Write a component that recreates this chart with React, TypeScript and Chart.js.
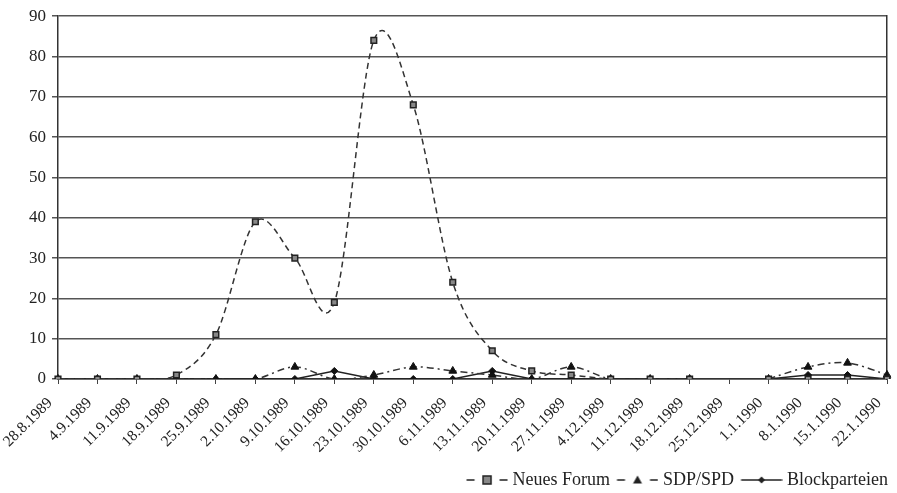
import React, { useEffect, useRef } from 'react';
import { Chart, registerables } from 'chart.js';

Chart.register(...registerables);

const categories = [
  '28.8.1989', '4.9.1989', '11.9.1989', '18.9.1989', '25.9.1989', '2.10.1989',
  '9.10.1989', '16.10.1989', '23.10.1989', '30.10.1989', '6.11.1989', '13.11.1989',
  '20.11.1989', '27.11.1989', '4.12.1989', '11.12.1989', '18.12.1989', '25.12.1989',
  '1.1.1990', '8.1.1990', '15.1.1990', '22.1.1990',
];

const neuesForum: (number | null)[] = [0, 0, 0, 1, 11, 39, 30, 19, 84, 68, 24, 7, 2, 1, 0, 0, 0, null, 0, 0, 0, 0];
const sdpSpd: (number | null)[] = [0, 0, 0, 0, 0, 0, 3, 0, 1, 3, 2, 1, 0, 3, 0, 0, 0, null, 0, 3, 4, 1];
const blockparteien: (number | null)[] = [0, 0, 0, 0, 0, 0, 0, 2, 0, 0, 0, 2, 0, 0, 0, 0, 0, null, 0, 1, 1, 0];

const seriesNames = ['Neues Forum', 'SDP/SPD', 'Blockparteien'];
const yTicks = { min: 0, max: 90, step: 10 };

const FONT = '"Liberation Serif", "Times New Roman", serif';
const INK = '#222';

Chart.defaults.font.family = FONT;
Chart.defaults.color = INK;

// Excel-like smoothing: uniform Catmull-Rom control points computed from the
// pixel positions that Chart.js itself produced for each point.
const excelSmooth = {
  id: 'excelSmooth',
  beforeDatasetDraw(chart: any, args: any) {
    const meta = chart.getDatasetMeta(args.index);
    const ds = chart.data.datasets[args.index];
    if (!ds.excelSmooth || !meta.dataset) return;
    meta.dataset.updateControlPoints(chart.chartArea, 'x');
    const pts = meta.data;
    for (let i = 0; i < pts.length; i++) {
      const p = pts[i];
      if (p.skip) continue;
      const prev = i > 0 && !pts[i - 1].skip ? pts[i - 1] : p;
      const next = i < pts.length - 1 && !pts[i + 1].skip ? pts[i + 1] : p;
      const dx = (next.x - prev.x) / 6;
      const dy = (next.y - prev.y) / 6;
      p.cp1x = p.x - dx;
      p.cp1y = p.y - dy;
      p.cp2x = p.x + dx;
      p.cp2y = p.y + dy;
    }
  },
};

function makeLegendImg(kind: 'rect' | 'triangle' | 'rectRot'): HTMLCanvasElement {
  const c = document.createElement('canvas');
  c.width = 48;
  c.height = 14;
  const ctx = c.getContext('2d')!;
  ctx.strokeStyle = INK;
  ctx.lineWidth = 1.5;
  const y = 7;
  const a = 6.5;
  const b = 47.5;
  ctx.beginPath();
  if (kind === 'rectRot') {
    ctx.moveTo(a, y);
    ctx.lineTo(b, y);
  } else {
    ctx.moveTo(a, y);
    ctx.lineTo(a + 8, y);
    ctx.moveTo(b - 8, y);
    ctx.lineTo(b, y);
  }
  ctx.stroke();
  const cx = (a + b) / 2;
  ctx.beginPath();
  if (kind === 'rect') {
    ctx.fillStyle = '#888';
    ctx.rect(cx - 4, y - 4, 8, 8);
    ctx.fill();
    ctx.stroke();
  } else if (kind === 'triangle') {
    ctx.fillStyle = INK;
    ctx.moveTo(cx, y - 4.5);
    ctx.lineTo(cx + 4.5, y + 3.5);
    ctx.lineTo(cx - 4.5, y + 3.5);
    ctx.closePath();
    ctx.fill();
  } else {
    ctx.fillStyle = INK;
    ctx.moveTo(cx, y - 3.5);
    ctx.lineTo(cx + 3.5, y);
    ctx.lineTo(cx, y + 3.5);
    ctx.lineTo(cx - 3.5, y);
    ctx.closePath();
    ctx.fill();
  }
  return c;
}

export default function App() {
  const ref = useRef<HTMLCanvasElement | null>(null);

  useEffect(() => {
    if (!ref.current) return;
    const legendImgs = [makeLegendImg('rect'), makeLegendImg('triangle'), makeLegendImg('rectRot')];

    const chart = new Chart(ref.current, {
      type: 'line',
      plugins: [excelSmooth],
      data: {
        labels: categories,
        datasets: [
          {
            label: seriesNames[0],
            data: neuesForum,
            borderColor: '#333',
            borderWidth: 1.5,
            borderDash: [6, 4],
            tension: 0.4,
            excelSmooth: true,
            pointStyle: 'rect',
            pointRadius: 4,
            pointBackgroundColor: '#888',
            pointBorderColor: '#222',
            pointBorderWidth: 1.5,
            spanGaps: false,
          },
          {
            label: seriesNames[1],
            data: sdpSpd,
            borderColor: '#333',
            borderWidth: 1.5,
            borderDash: [7, 4, 2, 4],
            tension: 0.4,
            excelSmooth: true,
            pointStyle: 'triangle',
            pointRadius: 4.5,
            pointBackgroundColor: '#111',
            pointBorderColor: '#111',
            pointBorderWidth: 1,
            spanGaps: false,
          },
          {
            label: seriesNames[2],
            data: blockparteien,
            borderColor: '#222',
            borderWidth: 1.5,
            tension: 0,
            pointStyle: 'rectRot',
            pointRadius: 3.5,
            pointBackgroundColor: '#111',
            pointBorderColor: '#111',
            pointBorderWidth: 1,
            spanGaps: false,
          },
        ],
      },
      options: {
        animation: false,
        responsive: false,
        maintainAspectRatio: false,
        layout: { padding: { top: 4, right: 4, left: 0, bottom: -6 } },
        plugins: {
          tooltip: { enabled: false },
          legend: {
            display: true,
            position: 'bottom',
            align: 'end',
            labels: {
              usePointStyle: true,
              pointStyleWidth: 39,
              boxHeight: 14,
              padding: 5,
              color: INK,
              font: { family: FONT, size: 18 },
              generateLabels: (ch: any) =>
                ch.data.datasets.map((ds: any, i: number) => ({
                  text: ds.label,
                  fillStyle: '#000',
                  strokeStyle: '#000',
                  lineWidth: 0,
                  hidden: false,
                  datasetIndex: i,
                  pointStyle: legendImgs[i],
                  fontColor: INK,
                })),
            },
          },
        },
        scales: {
          x: {
            type: 'category',
            grid: { display: true, drawOnChartArea: false, drawTicks: true, tickLength: 5, color: '#444', lineWidth: 1 },
            border: { display: true, color: '#333', width: 1.5 },
            ticks: {
              autoSkip: false,
              maxRotation: 45,
              minRotation: 45,
              padding: 10,
              labelOffset: -8,
              color: INK,
              font: { family: FONT, size: 15.5 },
            },
            afterFit: (s: any) => {
              s.height = 87;
              s.paddingLeft = 0;
              s.paddingRight = 0;
            },
          },
          y: {
            min: yTicks.min,
            max: yTicks.max,
            ticks: { stepSize: yTicks.step, padding: 6, color: INK, font: { family: FONT, size: 17 } },
            grid: { color: '#555', lineWidth: 1.5, tickLength: 6 },
            border: { display: true, color: '#333', width: 1.5 },
            afterFit: (s: any) => {
              s.width = 58;
            },
          },
          yr: {
            position: 'right',
            min: yTicks.min,
            max: yTicks.max,
            grid: { display: false },
            ticks: { display: false },
            border: { display: true, color: '#333', width: 1.5 },
            afterFit: (s: any) => {
              s.width = 6;
            },
          },
        },
      },
    } as any);

    return () => chart.destroy();
  }, []);

  return (
    <div style={{ position: 'fixed', left: 0, top: 0, width: 897, height: 493, background: '#fff' }}>
      <canvas ref={ref} width={897} height={493} style={{ width: 897, height: 493, display: 'block' }} />
    </div>
  );
}
